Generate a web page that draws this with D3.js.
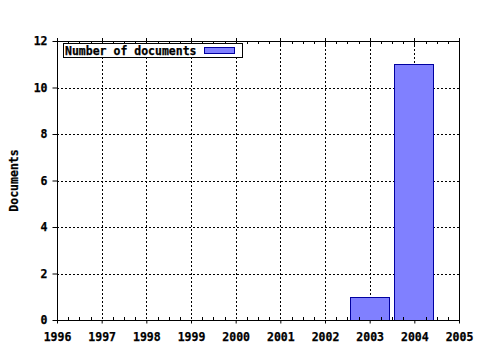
<!DOCTYPE html>
<html>
<head>
<meta charset="utf-8">
<script src="https://cdn.jsdelivr.net/npm/d3@7"></script>
<style>
  body { margin: 0; background: #fff; }
  text { font-family: "DejaVu Sans Mono", monospace; font-weight: bold; font-size: 11.5px; fill: #000; stroke: #000; stroke-width: 0.25px; }
</style>
</head>
<body>
<div id="chart"></div>
<script>
const years = [2003, 2004];
const docs = [1, 11];
const xTicks = [1996, 1997, 1998, 1999, 2000, 2001, 2002, 2003, 2004, 2005];
const yTicks = [0, 2, 4, 6, 8, 10, 12];
const seriesName = "Number of documents";
const yTitle = "Documents";

const width = 480, height = 350;
const margin = { top: 41, right: 21, bottom: 30, left: 57 };

const svg = d3.select("#chart").append("svg")
    .attr("width", width)
    .attr("height", height);

const x = d3.scaleLinear().domain([1996, 2005]).range([margin.left, width - margin.right]);
const y = d3.scaleLinear().domain([0, 12]).range([height - margin.bottom, margin.top]);

// grid
const grid = svg.append("g").attr("stroke", "#000").attr("stroke-dasharray", "2,2").attr("shape-rendering", "crispEdges");
grid.selectAll(".vg").data(xTicks.slice(1, -1)).enter().append("line")
    .attr("x1", d => Math.round(x(d)) + 0.5).attr("x2", d => Math.round(x(d)) + 0.5)
    .attr("y1", y(12)).attr("y2", y(0));
grid.selectAll(".hg").data(yTicks.slice(1, -1)).enter().append("line")
    .attr("y1", d => Math.round(y(d)) + 0.5).attr("y2", d => Math.round(y(d)) + 0.5)
    .attr("x1", x(1996)).attr("x2", x(2005));

// bars
const bw = (x(1997) - x(1996)) * 0.9;
svg.selectAll("rect.bar").data(docs).enter().append("rect")
    .attr("class", "bar")
    .attr("x", (d, i) => Math.round(x(years[i]) - bw / 2) + 0.5)
    .attr("y", d => Math.round(y(d)) + 0.5)
    .attr("width", Math.round(bw) - 1)
    .attr("height", d => Math.round(y(0)) - Math.round(y(d)))
    .attr("fill", "#8080ff")
    .attr("stroke", "#0000a0")
    .attr("stroke-width", 1);

// minor ticks
const minor = d3.range(0, 36).map(i => 1996 + i / 4).filter((d, i) => i % 4 !== 0);
const ticks = svg.append("g").attr("stroke", "#000").attr("shape-rendering", "crispEdges");
ticks.selectAll(".mb").data(minor).enter().append("line")
    .attr("x1", d => Math.round(x(d)) + 0.5).attr("x2", d => Math.round(x(d)) + 0.5)
    .attr("y1", y(0) - 3).attr("y2", y(0));
ticks.selectAll(".mt").data(minor).enter().append("line")
    .attr("x1", d => Math.round(x(d)) + 0.5).attr("x2", d => Math.round(x(d)) + 0.5)
    .attr("y1", y(12)).attr("y2", y(12) + 3);
ticks.selectAll(".Mt").data(xTicks).enter().append("line")
    .attr("x1", d => Math.round(x(d)) + 0.5).attr("x2", d => Math.round(x(d)) + 0.5)
    .attr("y1", y(12) - 3).attr("y2", y(12) + 4);

// axes
const xAxis = d3.axisBottom(x).tickValues(xTicks).tickFormat(d3.format("d")).tickSize(3).tickPadding(9);
const gx = svg.append("g").attr("transform", `translate(0,${y(0) + 0.5})`).call(xAxis);
gx.select(".domain").remove();
gx.selectAll("text").attr("font-family", null).attr("font-size", null);

const yAxis = d3.axisLeft(y).tickValues(yTicks).tickSize(5).tickPadding(5);
const gy = svg.append("g").attr("transform", `translate(${x(1996) + 0.5},0)`).call(yAxis);
gy.select(".domain").remove();
gy.selectAll("text").attr("font-family", null).attr("font-size", null);

// frame
const fr = svg.append("g").attr("stroke", "#000").attr("shape-rendering", "crispEdges");
fr.append("line").attr("x1", x(1996)).attr("x2", x(2005) + 1).attr("y1", y(0) + 0.5).attr("y2", y(0) + 0.5);
fr.append("line").attr("x1", x(1996)).attr("x2", x(2005) + 1).attr("y1", y(12) + 0.5).attr("y2", y(12) + 0.5);
fr.append("line").attr("x1", x(1996) + 0.5).attr("x2", x(1996) + 0.5).attr("y1", y(12) - 3).attr("y2", y(0) + 1);
fr.append("line").attr("x1", x(2005) + 0.5).attr("x2", x(2005) + 0.5).attr("y1", y(12) - 3).attr("y2", y(0) + 1);

// y title
svg.append("text")
    .attr("transform", `translate(18,${(y(0) + y(12)) / 2}) rotate(-90)`)
    .attr("text-anchor", "middle")
    .text(yTitle);

// legend
const lg = svg.append("g");
lg.append("rect").attr("x", 63.5).attr("y", 43.5).attr("width", 179).attr("height", 14)
    .attr("fill", "#fff").attr("stroke", "#000").attr("stroke-width", 1);
lg.append("text").attr("x", 65).attr("y", 54.5).text(seriesName);
lg.append("rect").attr("x", 204.5).attr("y", 47.5).attr("width", 30).attr("height", 6)
    .attr("fill", "#8080ff").attr("stroke", "#0000a0");
</script>
</body>
</html>
